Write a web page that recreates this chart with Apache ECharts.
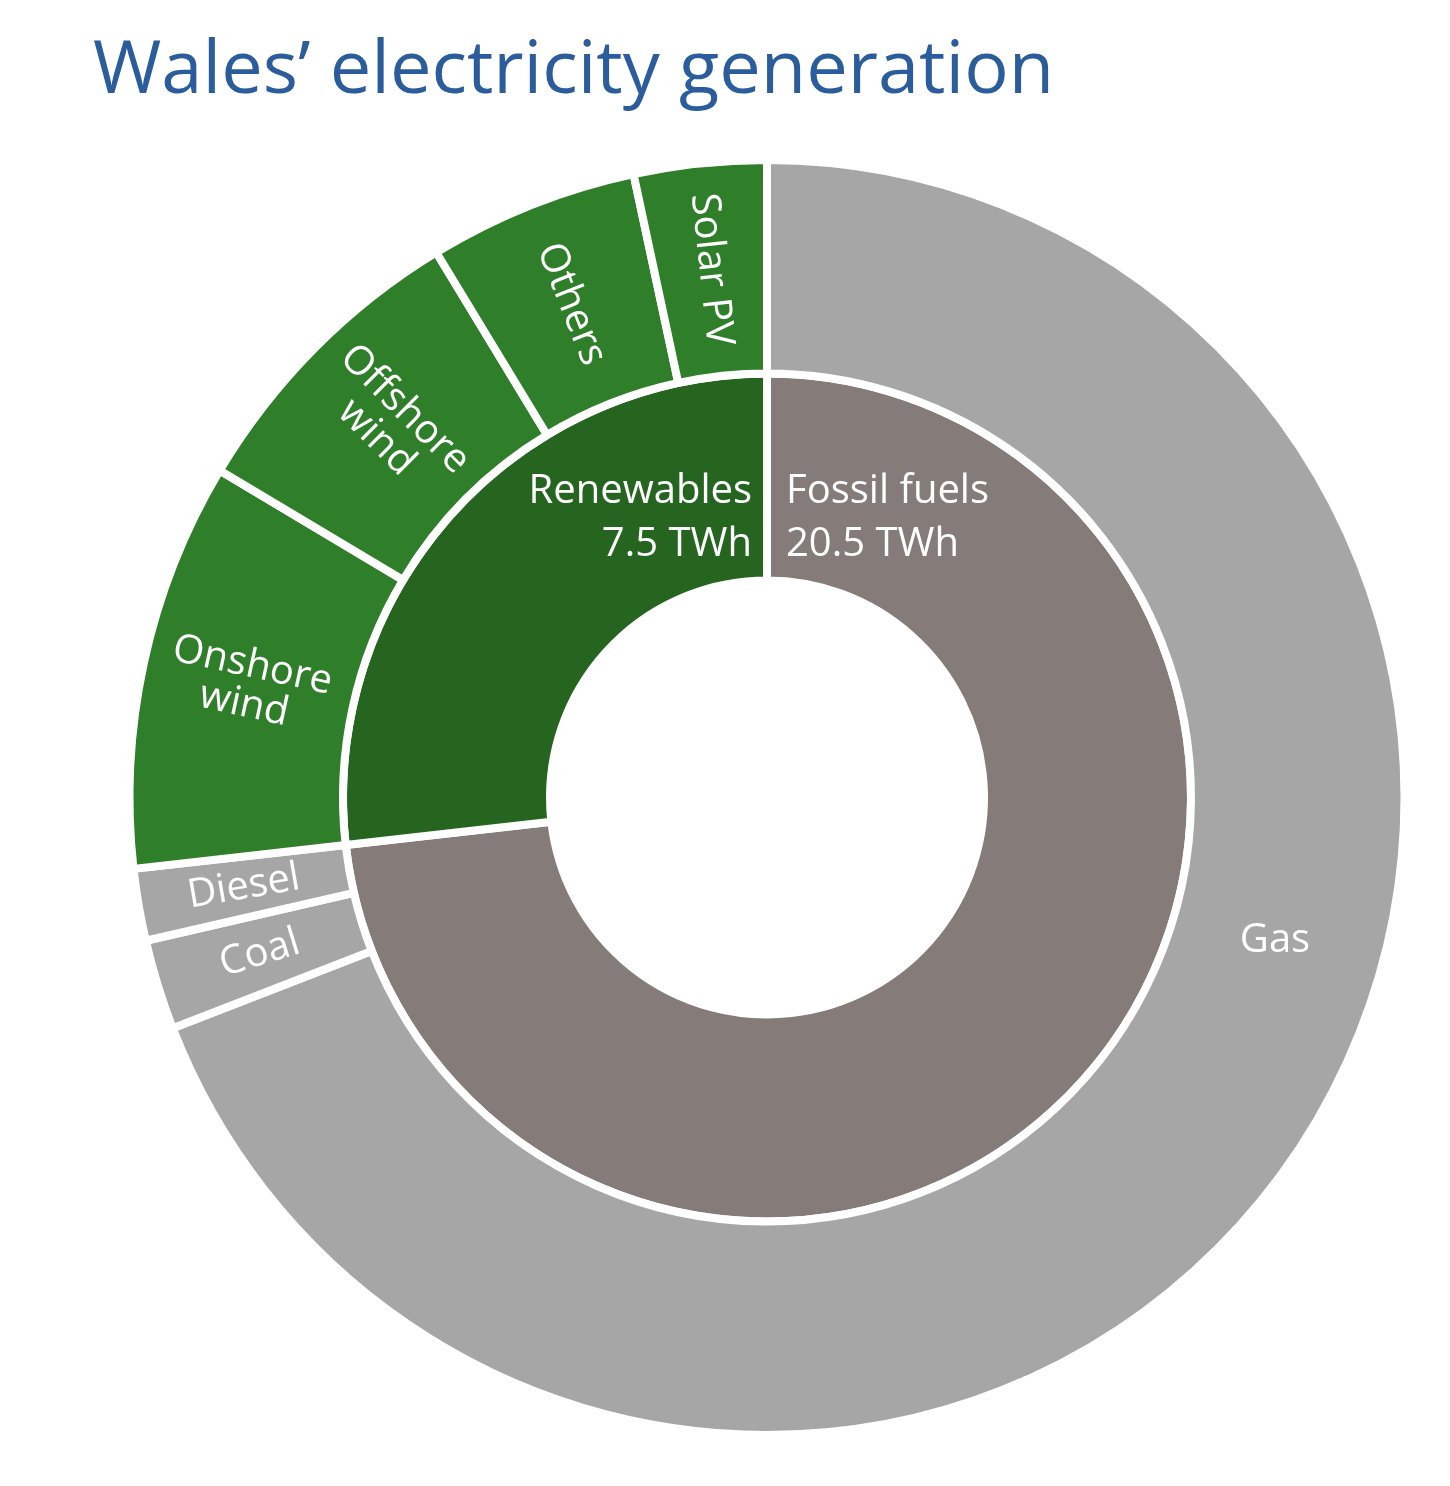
<!DOCTYPE html>
<html>
<head>
<meta charset="utf-8">
<script src="https://cdn.jsdelivr.net/npm/echarts@6/dist/echarts.min.js"></script>
<style>
html,body{margin:0;padding:0;background:#fff;}
#chart{width:1450px;height:1486px;}
</style>
</head>
<body>
<div id="chart"></div>
<script>
// ---- data (TWh) ----
const groupNames = ['Fossil fuels', 'Renewables'];
const groupValues = [20.5, 7.5];
const fossilNames = ['Gas', 'Coal', 'Diesel'];
const fossilValues = [19.35, 0.64, 0.51];
const renewableNames = ['Onshore wind', 'Offshore wind', 'Others', 'Solar PV'];
const renewableValues = [2.9, 2.17, 1.49, 0.94];

// ---- styles ----
const FONT = '"Open Sans", "Noto Sans", sans-serif';
const colors = {
  'Fossil fuels': '#857b78',
  'Renewables': '#26651f',
  fossilChild: '#a6a6a6',
  renewableChild: '#2f7e2a'
};
const CX = 767, CY = 797.5;

function child(name, value, color, hideLabel) {
  const d = { name: name, value: value, itemStyle: { color: color } };
  if (hideLabel) d.label = { show: false };
  return d;
}

const data = [
  {
    name: groupNames[0], value: groupValues[0],
    itemStyle: { color: colors[groupNames[0]] },
    children: fossilNames.map((n, i) => child(n, fossilValues[i], colors.fossilChild, i === 0))
  },
  {
    name: groupNames[1], value: groupValues[1],
    itemStyle: { color: colors[groupNames[1]] },
    children: renewableNames.map((n, i) => child(n, renewableValues[i], colors.renewableChild, false))
  }
];

const labelText = { fill: '#ffffff', fontFamily: FONT, fontSize: 40, lineHeight: 53 };

const chart = echarts.init(document.getElementById('chart'), null, { renderer: 'canvas' });
chart.setOption({
  backgroundColor: '#ffffff',
  animation: false,
  title: {
    text: 'Wales\u2019 electricity generation',
    left: 88,
    top: 30,
    textStyle: { fontFamily: FONT, fontSize: 74, fontWeight: 'normal', color: '#2b5c9c' }
  },
  graphic: [
    {
      type: 'text', z: 100, x: 752, y: 518.5,
      style: Object.assign({}, labelText, {
        text: groupNames[1] + '\n' + groupValues[1] + ' TWh',
        align: 'right', verticalAlign: 'middle'
      })
    },
    {
      type: 'text', z: 100, x: 786, y: 518.5,
      style: Object.assign({}, labelText, {
        text: groupNames[0] + '\n' + groupValues[0] + ' TWh',
        align: 'left', verticalAlign: 'middle'
      })
    },
    {
      type: 'text', z: 100, x: 1275, y: 941,
      style: Object.assign({}, labelText, {
        text: fossilNames[0],
        align: 'center', verticalAlign: 'middle'
      })
    }
  ],
  series: [{
    type: 'sunburst',
    center: [CX, CY],
    sort: null,
    nodeClick: false,
    startAngle: 90,
    emphasis: { disabled: true },
    itemStyle: { borderColor: '#ffffff', borderWidth: 8 },
    data: data,
    levels: [
      {},
      {
        r0: 217, r: 424,
        label: { show: false }
      },
      {
        r0: 424, r: 637.5,
        label: {
          show: true, rotate: 'radial', color: '#ffffff', fontFamily: FONT, fontSize: 40, lineHeight: 40,
          formatter: p => p.name.replace(' wind', '\nwind')
        }
      }
    ]
  }]
});
</script>
</body>
</html>
